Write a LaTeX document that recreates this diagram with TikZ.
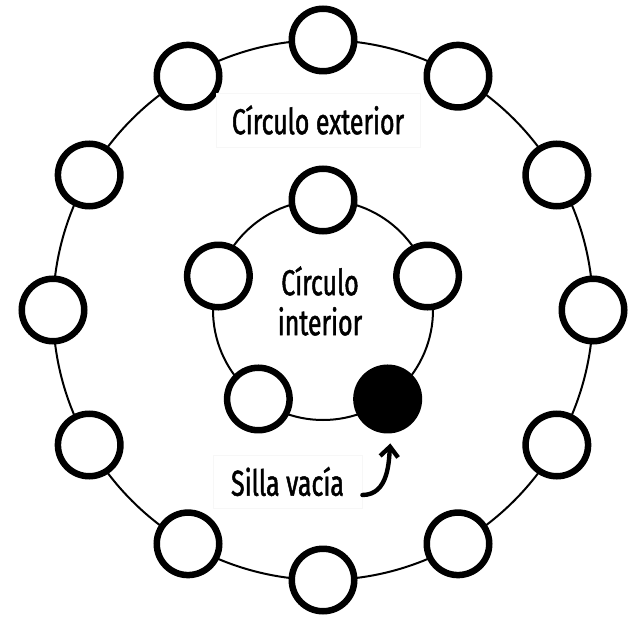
\documentclass[tikz,border=0pt]{standalone}
\usepackage{fontspec}
\setmainfont{Fira Sans}[FakeStretch=0.69,FakeBold=1.3]
\usetikzlibrary{arrows.meta}

\begin{document}
\begin{tikzpicture}[x=.5pt,y=.5pt, every node/.style={font=\fontsize{18}{20}\selectfont},
seat/.style={circle,draw,line width=3.25pt,fill=white,minimum size=31.25pt,inner sep=0pt},
ring/.style={line width=1pt},
tag/.style={fill=white,draw=black!3,inner sep=0pt},
arr/.style={-{Straight Barb[length=5pt,width=9pt]},line width=2.2pt,line cap=round}]
\useasboundingbox (0,0) rectangle (630,616);
\coordinate (c) at (323,306);
\draw[ring] (c) circle[radius=270];
\draw[ring] (c) circle[radius=110];
% outer and inner seats
\foreach \i in {1,...,12} \node[seat] (o\i) at ([shift={(60+30*\i:270)}]c) {};
\foreach \i in {0,...,3} \node[seat] (i\i) at ([shift={(18+72*\i:110)}]c) {};
\node[seat,fill=black] (empty) at ([shift={(-54:110)}]c) {};
\node[tag,minimum width=102pt,minimum height=27pt] (ext) at (318,496) {Círculo exterior};
\node[align=center] (int) at (320,315) {Círculo\\interior};
\node[tag,minimum width=74.5pt,minimum height=26.5pt] (silla) at (287.5,134.5) {Silla vacía};
\draw[arr,shorten >=5pt] ([yshift=-6.75pt]silla.east) to[out=0,in=-95] ([xshift=1.75pt]empty.south);
\end{tikzpicture}
\end{document}
